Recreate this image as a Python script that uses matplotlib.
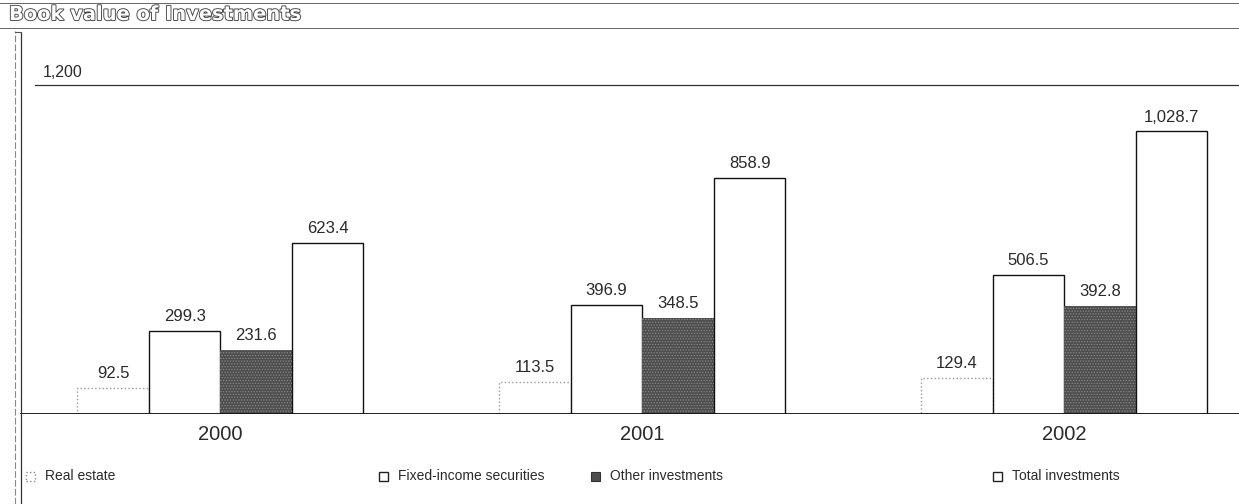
import matplotlib
matplotlib.use("Agg")
import matplotlib.pyplot as plt
import matplotlib.patheffects as pe
from matplotlib.lines import Line2D
from matplotlib.patches import Rectangle
import numpy as np

years = ["2000", "2001", "2002"]
series_names = ["Real estate", "Fixed-income securities", "Other investments", "Total investments"]
real_estate = [92.5, 113.5, 129.4]
fixed_income = [299.3, 396.9, 506.5]
other_investments = [231.6, 348.5, 392.8]
total_investments = [623.4, 858.9, 1028.7]
y_max = 1200

plt.rcParams["font.family"] = ["Liberation Sans", "DejaVu Sans"]
plt.rcParams["hatch.linewidth"] = 0.6

W, H = 1239, 504
fig = plt.figure(figsize=(W / 100, H / 100), dpi=100)
fig.patch.set_facecolor("white")

ax = fig.add_axes([20 / W, 1 - 413.5 / H, 1 - 20 / W, (413.5 - 84.5) / H])
ax.set_xlim(-0.475, 2.414)
ax.set_ylim(0, y_max)
for s in ax.spines.values():
    s.set_visible(False)
ax.axhline(0, color="#111", lw=1.3, zorder=5)
ax.axhline(y_max, xmin=15 / 1219, color="#333", lw=0.9, clip_on=False)
ax.text(-0.42, y_max + 18, "1,200", fontsize=11.5, color="#2a2a2a", ha="left", va="bottom")
ax.set_yticks([])

x = np.arange(len(years))
w = 0.1694
styles = [
    dict(facecolor="white", edgecolor="#9a9a9a", linestyle=":", linewidth=1.0),
    dict(facecolor="white", edgecolor="#111", linewidth=1.0),
    dict(facecolor="#4d4d4d", edgecolor="none", linewidth=0),
    dict(facecolor="white", edgecolor="#111", linewidth=1.0),
]
data = [real_estate, fixed_income, other_investments, total_investments]
for i, (vals, st) in enumerate(zip(data, styles)):
    pos = x + (i - 1.5) * w
    bars = ax.bar(pos, vals, width=w, zorder=2, **st)
    if i == 2:
        # grainy print texture on the dark bars
        ax.bar(pos, vals, width=w, facecolor="none", edgecolor="#8a8a8a",
               hatch="......", linewidth=0, zorder=3)
    for b, v in zip(bars, vals):
        ax.annotate(f"{v:,.1f}", (b.get_x() + b.get_width() / 2, v),
                    xytext=(0, 5), textcoords="offset points",
                    ha="center", va="bottom", fontsize=12, color="#2a2a2a")

ax.set_xticks(x)
ax.set_xticklabels(years, fontsize=14.5, color="#2a2a2a")
ax.tick_params(axis="x", length=0, pad=8)

# Title band
fig.add_artist(Line2D([0, 1], [1 - 3 / H, 1 - 3 / H], color="#666", lw=0.7))
fig.add_artist(Line2D([0, 1], [1 - 28 / H, 1 - 28 / H], color="#666", lw=0.7))
fig.text(9 / W, 1 - 14.5 / H, "Book value of Investments", fontsize=14,
         family="DejaVu Sans", fontweight="bold",
         color="white", ha="left", va="center",
         path_effects=[pe.withStroke(linewidth=1.3, foreground="#444")])

# Left frame
fig.add_artist(Line2D([15 / W, 15 / W], [0, 1 - 31 / H], color="#888", lw=0.8, ls=(0, (6, 2))))
fig.add_artist(Line2D([21 / W, 21 / W], [0, 1 - 33 / H], color="#333", lw=0.9))
fig.add_artist(Line2D([15 / W, 21 / W], [1 - 32 / H, 1 - 32 / H], color="#555", lw=0.8))

# Legend
leg_y = 1 - 476 / H
marker_x = [30, 383, 595, 997]
leg_styles = [
    dict(facecolor="white", edgecolor="#888", linestyle=":", linewidth=1.0),
    dict(facecolor="white", edgecolor="#222", linewidth=1.0),
    dict(facecolor="#4d4d4d", edgecolor="#333", linewidth=0.8),
    dict(facecolor="white", edgecolor="#222", linewidth=1.0),
]
sq = 9
for mx, name, st in zip(marker_x, series_names, leg_styles):
    fig.add_artist(Rectangle(((mx - sq / 2) / W, leg_y - (sq / 2) / H), sq / W, sq / H,
                             transform=fig.transFigure, **st))
    fig.text((mx + 15) / W, leg_y, name, fontsize=10, color="#2a2a2a", ha="left", va="center")

fig.savefig("out.png", dpi=100, facecolor="white")
